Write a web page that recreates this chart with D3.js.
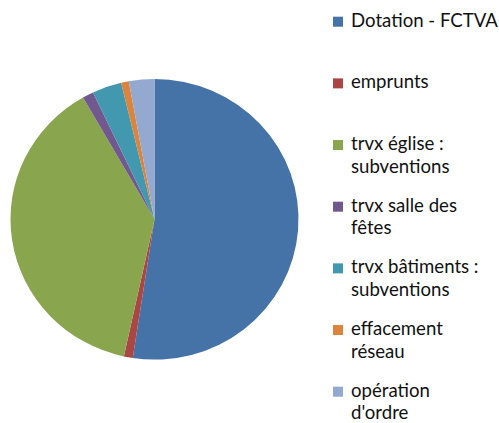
<!DOCTYPE html>
<html>
<head>
<meta charset="utf-8">
<script src="https://cdn.jsdelivr.net/npm/d3@7"></script>
<style>
  body { margin: 0; background: #fff; }
  svg { display: block; }
</style>
</head>
<body>
<div id="chart"></div>
<script>
// data (share of total, %)
const categories = ["Dotation - FCTVA", "emprunts", "trvx église : subventions",
                    "trvx salle des fêtes", "trvx bâtiments : subventions",
                    "effacement réseau", "opération d'ordre"];
const values = [52.4, 1.0, 38.3, 1.25, 3.3, 0.86, 2.86];
// how each legend label wraps
const legendLines = [["Dotation - FCTVA"], ["emprunts"], ["trvx église :", "subventions"],
                     ["trvx salle des", "fêtes"], ["trvx bâtiments :", "subventions"],
                     ["effacement", "réseau"], ["opération", "d'ordre"]];
const colors = ["#4572A7", "#AA4643", "#89A54E", "#71588F", "#4198AF", "#DB843D", "#93A9CF"];

const width = 499, height = 423;
const cx = 154.5, cy = 219.3, rx = 144, ry = 140.3;

const svg = d3.select("#chart")
    .append("svg")
    .attr("width", width)
    .attr("height", height);

var color = d3.scaleOrdinal()
    .domain(categories)
    .range(colors);

var pie = d3.pie()
    .sort(null)
    .value(function(d, i) { return values[i]; });

var arc = d3.arc()
    .innerRadius(0)
    .outerRadius(rx);

// the pie is slightly squashed vertically in the original
svg.append("g")
    .attr("transform", "translate(" + cx + "," + cy + ") scale(1," + (ry / rx) + ")")
    .selectAll("path")
    .data(pie(categories))
    .enter().append("path")
    .attr("d", arc)
    .attr("fill", function(d) { return color(d.data); });

// legend
var legendY = d3.scalePoint()
    .domain(categories)
    .range([26.7, 396.7]);

var legend = svg.selectAll(".legend")
    .data(categories)
    .enter().append("g")
    .attr("class", "legend")
    .attr("transform", function(d) { return "translate(333," + legendY(d) + ")"; });

legend.append("rect")
    .attr("x", 0)
    .attr("y", -10)
    .attr("width", 10)
    .attr("height", 10)
    .style("fill", color);

legend.append("text")
    .attr("x", 18)
    .style("font-family", "Lato, 'Open Sans', sans-serif")
    .style("font-size", "18.6px")
    .style("fill", "#111")
    .selectAll("tspan")
    .data(function(d, i) { return legendLines[i]; })
    .enter().append("tspan")
    .attr("x", 18)
    .attr("y", function(d, i) { return i * 22.5; })
    .text(function(d) { return d; });
</script>
</body>
</html>
